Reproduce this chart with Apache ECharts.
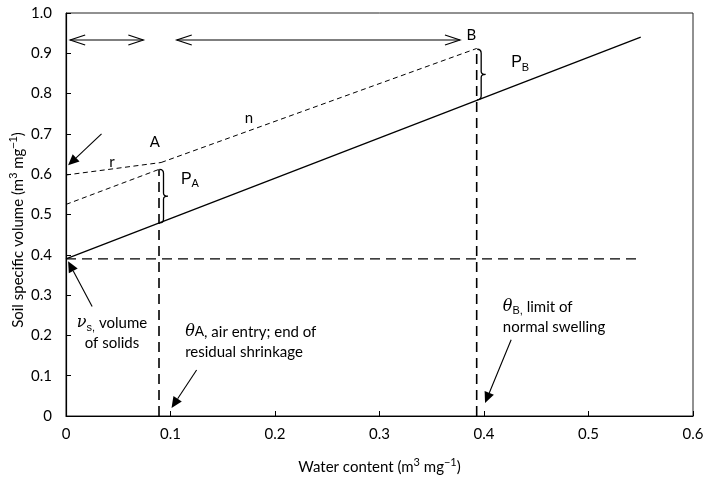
<!DOCTYPE html>
<html>
<head>
<meta charset="utf-8">
<script src="https://cdn.jsdelivr.net/npm/echarts@6/dist/echarts.min.js"></script>
<style>
  html, body { margin: 0; padding: 0; background: #fff; }
  #chart { width: 704px; height: 483px; }
</style>
</head>
<body>
<div id="chart"></div>
<script>
const FONT = 'Lato, "Noto Sans", sans-serif';
const SERIF = '"DejaVu Serif", "Liberation Serif", serif';

// Normal shrinkage line (volume of solids + water)
const normalShrinkage = [[0, 0.39], [0.55, 0.94]];
// Residual shrinkage branch "r"
const residualBranch = [[0, 0.598], [0.091, 0.629]];
// Lower branch running up to the air-entry point
const lowerBranch = [[0, 0.525], [0.089, 0.612]];
// Normal swelling branch "n" from A to B
const normalBranch = [[0.091, 0.629], [0.393, 0.912]];
// Specific volume of solids
const solidsVolume = [[0, 0.39], [0.55, 0.39]];
// Air-entry and swelling-limit water contents
const airEntryDrop = [[0.089, 0], [0.089, 0.612]];
const swellLimitDrop = [[0.393, 0], [0.393, 0.91]];

// Pore-volume braces: [water content, lower volume, upper volume]
const poreBraces = [[0.089, 0.479, 0.612], [0.393, 0.785, 0.91]];
// Double-headed range arrows: [from, to, volume level]
const rangeArrows = [[0.004, 0.074, 0.933], [0.106, 0.377, 0.933]];
// Pointer arrows: [from x, from y, tip x, tip y]
const pointerArrows = [
  [0.034, 0.700, 0.002, 0.622],
  [0.025, 0.272, 0.002, 0.384],
  [0.125, 0.114, 0.101, 0.020],
  [0.426, 0.189, 0.401, 0.032]
];

// Annotation texts and their anchors in data units
const noteText = [
  'A', 'r', 'n', 'B',
  '{p|P}{sub|A}', '{p|P}{sub|B}',
  '{it|ν}{sub|s,} volume\nof solids',
  '{it|θ}{sm|A}, air entry; end of\nresidual shrinkage',
  '{it|θ}{sub|B,} limit of\nnormal swelling'
];
const noteX = [0.085, 0.044, 0.175, 0.388, 0.110, 0.426, 0.044, 0.114, 0.418];
const noteY = [0.680, 0.631, 0.739, 0.945, 0.586, 0.876, 0.206, 0.184, 0.246];
const noteAlign = ['center', 'center', 'center', 'center', 'left', 'left', 'center', 'left', 'left'];

const richStyles = {
  p: { fontSize: 16, lineHeight: 20 },
  sub: { fontSize: 11, lineHeight: 12, verticalAlign: 'bottom' },
  sm: { fontSize: 14, lineHeight: 20 },
  it: { fontFamily: SERIF, fontStyle: 'italic', fontSize: 16, lineHeight: 20 },
  sup: { fontSize: 11, lineHeight: 12, verticalAlign: 'top' }
};

const chart = echarts.init(document.getElementById('chart'), null, { renderer: 'canvas' });

function lineSeries(data, width, dash) {
  return {
    type: 'line', data: data, showSymbol: false, symbol: 'none', silent: true,
    lineStyle: { color: '#000', width: width, type: dash },
    z: 3
  };
}

const fmt = v => (Math.abs(v) < 1e-9 ? '0' : v.toFixed(1));

chart.setOption({
  animation: false,
  backgroundColor: '#fff',
  textStyle: { fontFamily: FONT },
  grid: {
    left: 66, right: 11, top: 13, bottom: 67,
    show: true, borderColor: '#222', borderWidth: 1,
    outerBoundsMode: 'none'
  },
  graphic: [{
    // vertical axis title
    type: 'text', x: 18, y: 230, rotation: Math.PI / 2,
    style: {
      text: 'Soil specific volume (m{sup|3} mg{sup|−1})', rich: richStyles,
      fontFamily: FONT, fontSize: 15, lineHeight: 20, fill: '#000', align: 'center', verticalAlign: 'middle'
    }
  }],
  xAxis: {
    type: 'value', min: 0, max: 0.6, interval: 0.1,
    name: 'Water content (m{sup|3} mg{sup|−1})',
    nameLocation: 'middle', nameGap: 41,
    nameTextStyle: { color: '#000', fontSize: 15, lineHeight: 20, fontFamily: FONT, rich: richStyles },
    axisLine: { lineStyle: { color: '#000', width: 1.2 } },
    axisTick: { inside: true, length: 5, lineStyle: { color: '#000' } },
    axisLabel: { color: '#000', fontSize: 15, fontFamily: FONT, margin: 11, formatter: fmt },
    splitLine: { show: false }
  },
  yAxis: {
    type: 'value', min: 0, max: 1, interval: 0.1,
    axisLine: { lineStyle: { color: '#000', width: 1.2 } },
    axisTick: { inside: true, length: 5, lineStyle: { color: '#000' } },
    axisLabel: { color: '#000', fontSize: 15, fontFamily: FONT, margin: 14, formatter: fmt },
    splitLine: { show: false }
  },
  series: [
    lineSeries(normalShrinkage, 1.3, 'solid'),
    lineSeries(residualBranch, 1, [5, 3.5]),
    lineSeries(lowerBranch, 1, [5, 3.5]),
    lineSeries(normalBranch, 1, [5, 3.5]),
    lineSeries(solidsVolume, 1.4, [10, 6]),
    lineSeries(airEntryDrop, 1.6, [10, 6]),
    lineSeries(swellLimitDrop, 1.6, [10, 6]),
    {
      // curly braces marking the pore volume at A and B
      type: 'custom', silent: true, z: 4,
      data: poreBraces,
      renderItem: function (params, api) {
        const top = api.coord([api.value(0), api.value(2)]);
        const bot = api.coord([api.value(0), api.value(1)]);
        const xl = top[0] + 0.5, xr = top[0] + 4.5, tip = top[0] + 9;
        const yt = top[1], yb = bot[1], ym = (yt + yb) / 2;
        const d = 'M' + xl + ' ' + yt +
          ' Q' + xr + ' ' + yt + ' ' + xr + ' ' + (yt + 4) +
          ' L' + xr + ' ' + (ym - 3) +
          ' Q' + xr + ' ' + ym + ' ' + tip + ' ' + ym +
          ' Q' + xr + ' ' + ym + ' ' + xr + ' ' + (ym + 3) +
          ' L' + xr + ' ' + (yb - 4) +
          ' Q' + xr + ' ' + yb + ' ' + xl + ' ' + yb;
        return { type: 'path', shape: { pathData: d }, style: { stroke: '#000', fill: null, lineWidth: 1.3 } };
      }
    },
    {
      // double-headed range arrows with open heads
      type: 'custom', silent: true, z: 4,
      data: rangeArrows,
      renderItem: function (params, api) {
        const a = api.coord([api.value(0), api.value(2)]);
        const b = api.coord([api.value(1), api.value(2)]);
        const L = 15, W = 5;
        const st = { stroke: '#000', fill: null, lineWidth: 1.2 };
        return {
          type: 'group', children: [
            { type: 'line', shape: { x1: a[0], y1: a[1], x2: b[0], y2: b[1] }, style: st },
            { type: 'polyline', shape: { points: [[a[0] + L, a[1] - W], [a[0], a[1]], [a[0] + L, a[1] + W]] }, style: st },
            { type: 'polyline', shape: { points: [[b[0] - L, b[1] - W], [b[0], b[1]], [b[0] - L, b[1] + W]] }, style: st }
          ]
        };
      }
    },
    {
      // pointer arrows with filled heads
      type: 'custom', silent: true, z: 4,
      data: pointerArrows,
      renderItem: function (params, api) {
        const s = api.coord([api.value(0), api.value(1)]);
        const t = api.coord([api.value(2), api.value(3)]);
        const dx = t[0] - s[0], dy = t[1] - s[1];
        const len = Math.sqrt(dx * dx + dy * dy);
        const ux = dx / len, uy = dy / len;
        const H = 11, W = 5;
        const bx = t[0] - ux * H, by = t[1] - uy * H;
        return {
          type: 'group', children: [
            { type: 'line', shape: { x1: s[0], y1: s[1], x2: bx, y2: by }, style: { stroke: '#000', lineWidth: 1.1 } },
            { type: 'polygon', shape: { points: [[t[0], t[1]], [bx - uy * W, by + ux * W], [bx + uy * W, by - ux * W]] }, style: { fill: '#000', stroke: null } }
          ]
        };
      }
    },
    {
      // text annotations
      type: 'custom', silent: true, z: 5,
      data: noteX.map((x, i) => [x, noteY[i], i]),
      renderItem: function (params, api) {
        const i = api.value(2);
        const p = api.coord([api.value(0), api.value(1)]);
        return {
          type: 'text', x: p[0], y: p[1],
          style: {
            text: noteText[i], rich: richStyles,
            fontFamily: FONT, fontSize: 15, lineHeight: 20, fill: '#000',
            align: noteAlign[i], verticalAlign: 'middle'
          }
        };
      }
    }
  ]
});
</script>
</body>
</html>
